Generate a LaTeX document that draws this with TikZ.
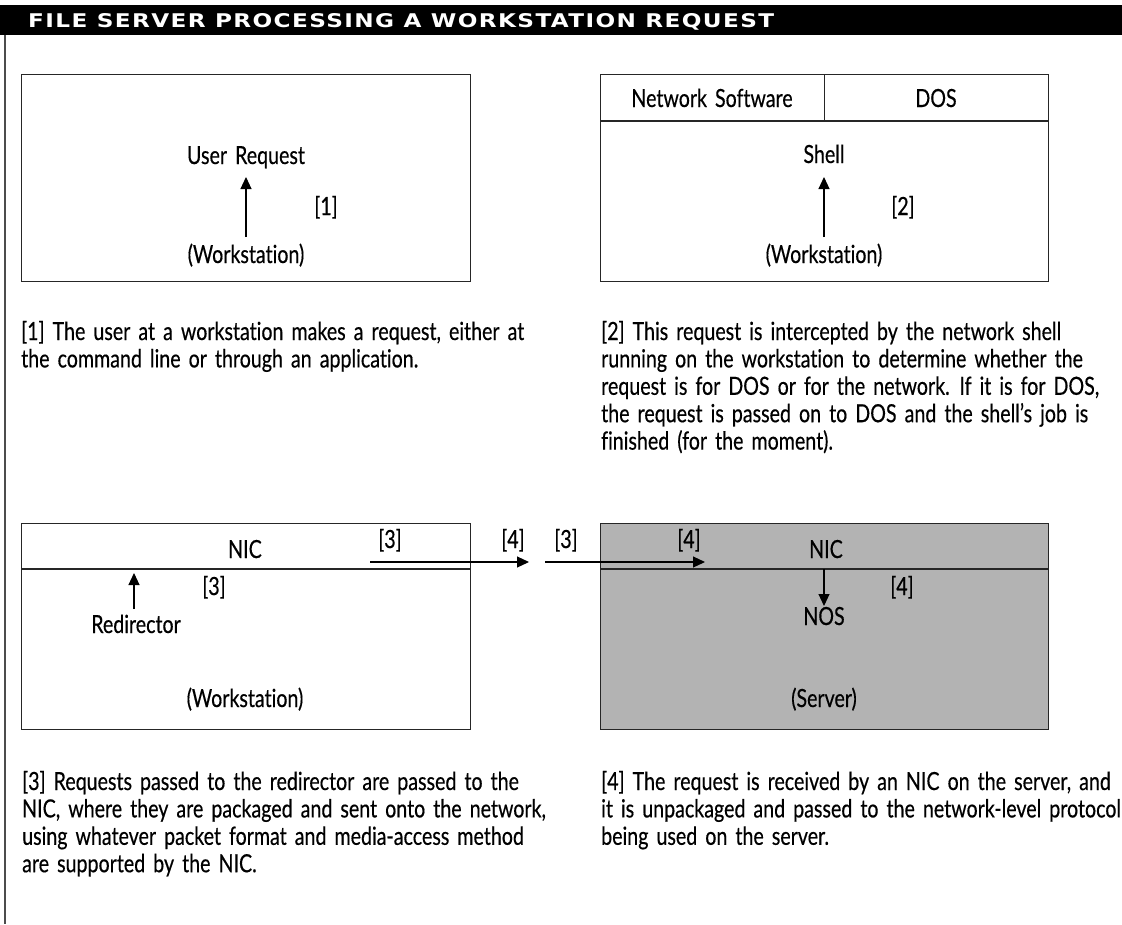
\documentclass[tikz,border=0pt]{standalone}
\usepackage{fontspec}
\usepackage{graphicx}
\usetikzlibrary{arrows.meta}
\setmainfont{Lato}[WordSpace=1.6, FakeBold=0.5, Ligatures=NoCommon]
\newfontfamily\titlefont{DejaVu Sans}[LetterSpace=6]
\newlength\reflen
\newcommand\bodysize{\fontsize{25}{27.4}\selectfont}
\newcommand\T[1]{\scalebox{\sx}[1]{#1}}
\definecolor{srvgray}{HTML}{B3B3B3}
\AtBeginDocument{%
  \settowidth\reflen{\normalfont\bodysize [1] The user at a workstation makes a request, either at}%
  \pgfmathsetmacro\sx{503/\reflen}%
  \global\let\sx\sx}
\tikzset{
  box/.style={draw=black!85, line width=1.2pt, inner sep=0, anchor=north west},
  lbl/.style={inner sep=0, anchor=base, font=\bodysize},
  para/.style={inner sep=0, anchor=base west, font=\bodysize},
  arr/.style={line width=1.1pt, -{Triangle[length=12pt,width=11pt]}},
  rule/.style={draw=black!85, line width=1.2pt}
}
\begin{document}
\begin{tikzpicture}[x=1pt,y=-1pt]
\useasboundingbox (0,0) rectangle (1122,924);
% title bar
\node[fill=black, minimum width=1122, minimum height=30, anchor=north west, inner sep=0] (bar) at (0,5) {};
\node[anchor=base west, inner sep=0, text=white] (title) at (28,27.5) {\resizebox{746pt}{14pt}{\titlefont\bfseries FILE SERVER PROCESSING A WORKSTATION REQUEST}};
\coordinate (lt) at (4.75,35);
\coordinate (lb) at (4.75,924);
\draw[black!70, line width=1.5pt] (lt) -- (lb);
% box 1
\node[box, minimum width=449, minimum height=207] (b1) at (21,74) {};
\node[lbl] (ur) at (246,164) {\T{User Request}};
\node[lbl] (n1) at (326,215) {\T{[1]}};
\node[lbl] (ws1) at (246,263) {\T{(Workstation)}};
\coordinate (a1s) at (246,237);
\coordinate (a1e) at (246,177);
\draw[arr] (a1s) -- (a1e);
% box 2
\node[box, minimum width=448, minimum height=207] (b2) at (600,74) {};
\coordinate (d2l) at (600,121);
\coordinate (d2r) at (1048,121);
\coordinate (d2t) at (824.5,74);
\coordinate (d2b) at (824.5,121);
\draw[rule] (d2l) -- (d2r);
\draw[rule] (d2t) -- (d2b);
\node[lbl] (nsw) at (712,107) {\T{Network Software}};
\node[lbl] (dos) at (936,107) {\T{DOS}};
\node[lbl] (shell) at (824,163) {\T{Shell}};
\node[lbl] (n2) at (903,215) {\T{[2]}};
\node[lbl] (ws2) at (824,263) {\T{(Workstation)}};
\coordinate (a2s) at (824,237);
\coordinate (a2e) at (824,177);
\draw[arr] (a2s) -- (a2e);
% box 3
\node[box, minimum width=449, minimum height=206] (b3) at (21,523) {};
\coordinate (d3l) at (21,569);
\coordinate (d3r) at (470,569);
\draw[rule] (d3l) -- (d3r);
\node[lbl] (nic3) at (245,558) {\T{NIC}};
\node[lbl] (n3a) at (390,548) {\T{[3]}};
\node[lbl] (n3b) at (214,595) {\T{[3]}};
\node[lbl] (redir) at (136,633) {\T{Redirector}};
\node[lbl] (ws3) at (245,707) {\T{(Workstation)}};
\coordinate (a3s) at (134,609);
\coordinate (a3e) at (134,573);
\draw[arr] (a3s) -- (a3e);
% box 4
\node[box, fill=srvgray, minimum width=448, minimum height=206] (b4) at (600,523) {};
\coordinate (d4l) at (600,569);
\coordinate (d4r) at (1048,569);
\draw[rule] (d4l) -- (d4r);
\node[lbl] (n4a) at (689,548) {\T{[4]}};
\node[lbl] (nic4) at (826,558) {\T{NIC}};
\node[lbl] (n4b) at (902,595) {\T{[4]}};
\node[lbl] (nos) at (824,625) {\T{NOS}};
\node[lbl] (srv) at (824,707) {\T{(Server)}};
\coordinate (a4s) at (824,569);
\coordinate (a4e) at (824,606);
\draw[arr] (a4s) -- (a4e);
% between
\node[lbl] (n4m) at (513,548) {\T{[4]}};
\node[lbl] (n3m) at (566,548) {\T{[3]}};
\coordinate (m1s) at (370,562);
\coordinate (m1e) at (529,562);
\coordinate (m2s) at (545,562);
\coordinate (m2e) at (705,562);
\draw[arr] (m1s) -- (m1e);
\draw[arr] (m2s) -- (m2e);
% paragraphs
\node[para] (p1a) at (21,340) {\T{[1] The user at a workstation makes a request, either at}};
\node[para] (p1b) at (21,367.4) {\T{the command line or through an application.}};
\node[para] (p2a) at (601,340) {\T{[2] This request is intercepted by the network shell}};
\node[para] (p2b) at (601,367.4) {\T{running on the workstation to determine whether the}};
\node[para] (p2c) at (601,394.8) {\T{request is for DOS or for the network. If it is for DOS,}};
\node[para] (p2d) at (601,422.2) {\T{the request is passed on to DOS and the shell's job is}};
\node[para] (p2e) at (601,449.6) {\T{finished (for the moment).}};
\node[para] (p3a) at (22,790) {\T{[3] Requests passed to the redirector are passed to the}};
\node[para] (p3b) at (22,817.4) {\T{NIC, where they are packaged and sent onto the network,}};
\node[para] (p3c) at (22,844.8) {\T{using whatever packet format and media-access method}};
\node[para] (p3d) at (22,872.2) {\T{are supported by the NIC.}};
\node[para] (p4a) at (601,790) {\T{[4] The request is received by an NIC on the server, and}};
\node[para] (p4b) at (601,817.4) {\T{it is unpackaged and passed to the network-level protocol}};
\node[para] (p4c) at (601,844.8) {\T{being used on the server.}};
\end{tikzpicture}
\end{document}
